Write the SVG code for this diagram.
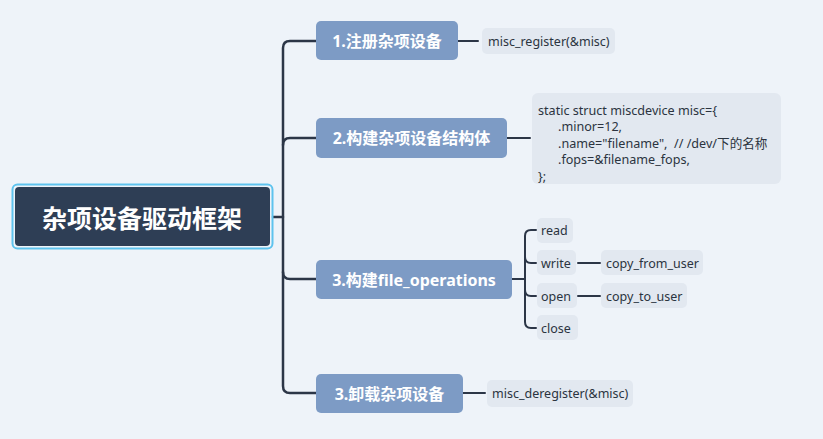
<svg xmlns="http://www.w3.org/2000/svg" width="823" height="439" viewBox="0 0 823 439">
<style>
.bg{fill:#eef3f9}
.node rect{fill:#7d9bc5}
.node text{fill:#ffffff;font-family:"Noto Sans","Noto Sans CJK SC",sans-serif;font-weight:bold;font-size:16px;dominant-baseline:central;text-anchor:middle}
.leaf rect{fill:#e2e8f0}
.leaf text{fill:#2b3440;font-family:"Noto Sans","Noto Sans CJK SC",sans-serif;font-size:12.5px;dominant-baseline:central}
.code text{fill:#2b3440;font-family:"Noto Sans","Noto Sans CJK SC",sans-serif;font-size:12.6px;white-space:pre}
.conn path{fill:none;stroke:#2c3647;stroke-width:2.5;stroke-linecap:round;stroke-linejoin:round}
.conn .thin{stroke-width:2}
</style>
<rect class="bg" x="0" y="0" width="823" height="439"/>
<g class="conn">
  <path d="M273,217 H283"/>
  <path d="M316,41 H290 Q283,41 283,48 V386 Q283,393 290,393 H316"/>
  <path d="M283,145 Q283,138 290,138 H316"/>
  <path d="M283,272 Q283,279 290,279 H316"/>
  <path class="thin" d="M458,41 H478"/>
  <path class="thin" d="M507,138 H530"/>
  <path class="thin" d="M463,393 H485"/>
  <path class="thin" d="M512,279 H525"/>
  <path class="thin" d="M536,230 H531 Q525,230 525,236 V322 Q525,328 531,328 H536"/>
  <path class="thin" d="M525,257 Q525,263 531,263 H536"/>
  <path class="thin" d="M525,290 Q525,296 531,296 H536"/>
  <path class="thin" d="M578,263 H600"/>
  <path class="thin" d="M578,296 H600"/>
</g>
<g id="root">
  <rect x="12.5" y="184.5" width="260" height="64" rx="5" fill="none" stroke="#5ec3ee" stroke-width="2"/>
  <rect x="15" y="187" width="255" height="59" rx="4" fill="#2e3e55"/>
  <text x="142" y="217" fill="#ffffff" font-family="'Noto Sans CJK SC',sans-serif" font-weight="bold" font-size="25" text-anchor="middle" dominant-baseline="central">杂项设备驱动框架</text>
</g>
<g id="n1" class="node">
  <rect x="316" y="21" width="142" height="39" rx="5"/>
  <text x="387" y="40.5">1.注册杂项设备</text>
</g>
<g id="n2" class="node">
  <rect x="316" y="118" width="191" height="40" rx="5"/>
  <text x="411.5" y="138">2.构建杂项设备结构体</text>
</g>
<g id="n3" class="node">
  <rect x="316" y="260" width="196" height="39" rx="5"/>
  <text x="414" y="279.5">3.构建file_operations</text>
</g>
<g id="n4" class="node">
  <rect x="316" y="374" width="147" height="39" rx="5"/>
  <text x="389.5" y="393.5">3.卸载杂项设备</text>
</g>
<g id="l1" class="leaf">
  <rect x="482" y="28" width="133" height="26" rx="5"/>
  <text x="488" y="41">misc_register(&amp;misc)</text>
</g>
<g id="l2" class="leaf code">
  <rect x="532" y="93" width="249" height="91" rx="6"/>
  <text x="538" y="110">static struct miscdevice misc={</text>
  <text x="558" y="126">.minor=12,</text>
  <text x="558" y="143" xml:space="preserve">.name="filename",  // /dev/下的名称</text>
  <text x="558" y="159">.fops=&amp;filename_fops,</text>
  <text x="538" y="176">};</text>
</g>
<g id="l3" class="leaf">
  <rect x="537" y="218" width="36" height="25" rx="5"/>
  <text x="541" y="230.5">read</text>
</g>
<g id="l4" class="leaf">
  <rect x="537" y="250" width="39" height="25" rx="5"/>
  <text x="541" y="263">write</text>
</g>
<g id="l5" class="leaf">
  <rect x="537" y="283" width="40" height="25" rx="5"/>
  <text x="541" y="296">open</text>
</g>
<g id="l6" class="leaf">
  <rect x="537" y="315" width="41" height="25" rx="5"/>
  <text x="541" y="328">close</text>
</g>
<g id="l7" class="leaf">
  <rect x="601" y="250" width="102" height="25" rx="5"/>
  <text x="606" y="263">copy_from_user</text>
</g>
<g id="l8" class="leaf">
  <rect x="601" y="283" width="86" height="25" rx="5"/>
  <text x="606" y="296">copy_to_user</text>
</g>
<g id="l9" class="leaf">
  <rect x="487" y="380" width="146" height="27" rx="5"/>
  <text x="492" y="393.5">misc_deregister(&amp;misc)</text>
</g>
</svg>
